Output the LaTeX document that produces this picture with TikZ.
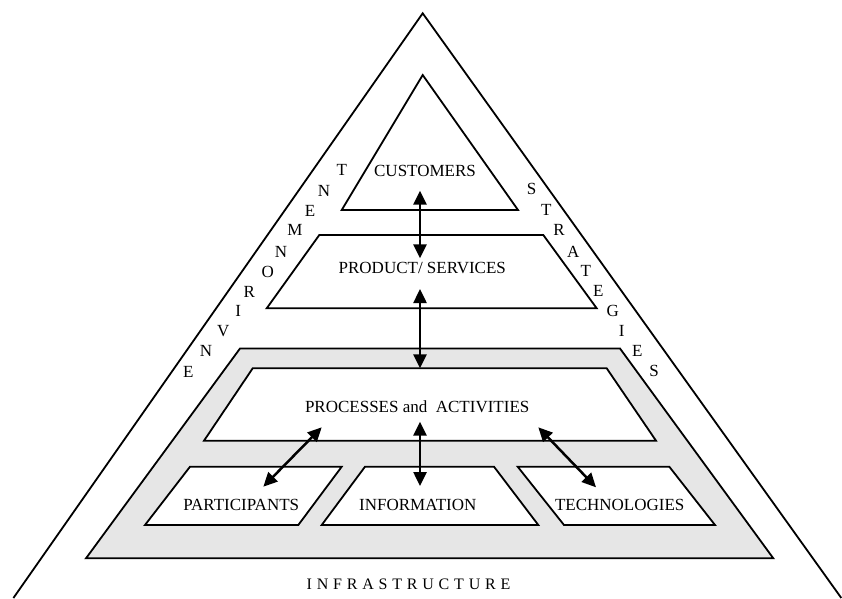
\documentclass[tikz,border=0pt]{standalone}
\usepackage{fontspec}
\setmainfont{Liberation Serif}
\usetikzlibrary{arrows.meta}
\definecolor{infragray}{RGB}{230,230,230}
\tikzset{
  shape line/.style={draw=black, line width=1.8pt, line join=miter},
  infra fill/.style={shape line, fill=infragray},
  white fill/.style={shape line, fill=white},
  dbl arrow/.style={line width=2.5pt, {Triangle[length=14pt,width=13pt]}-{Triangle[length=14pt,width=13pt]}},
  label text/.style={font=\fontsize{17}{20}\selectfont, inner sep=0pt, anchor=base},
  side letter/.style={font=\fontsize{17}{20}\selectfont, inner sep=0pt, anchor=center},
}
\begin{document}
\begin{tikzpicture}[x=1pt, y=-1pt]
\useasboundingbox (0,0) rectangle (842,598);
% outer triangle
\coordinate (apex) at (422.7,13.3);
\coordinate (outerL) at (13.4,598);
\coordinate (outerR) at (841.3,598);
\draw[shape line] (outerL) -- (apex) -- (outerR);
% customers triangle
\draw[white fill] (341.7,210) -- (422.7,75) -- (518,210) -- cycle;
% product / services
\draw[white fill] (319.3,235) -- (543.3,235) -- (596.7,308.3) -- (266.7,308.3) -- cycle;
% infrastructure
\draw[infra fill] (240,348.5) -- (620,348.5) -- (773.3,558.3) -- (86,558.3) -- cycle;
% processes
\draw[white fill] (252.7,368.3) -- (606.7,368.3) -- (656,440.7) -- (204,440.7) -- cycle;
% participants, information, technologies
\draw[white fill] (190,466.7) -- (341.7,466.7) -- (298.3,525) -- (145,525) -- cycle;
\draw[white fill] (365,466.7) -- (494,466.7) -- (538.3,525) -- (321.7,525) -- cycle;
\draw[white fill] (517.7,466.7) -- (669.3,466.7) -- (715,525) -- (564,525) -- cycle;

% labels
\node[label text] (cust) at (425,176) {CUSTOMERS};
\node[label text] (prod) at (422.3,273.3) {PRODUCT/ SERVICES};
\node[label text] (proc) at (417.2,412.3) {PROCESSES and\ \ ACTIVITIES};
\node[label text] (part) at (241.2,510.7) {PARTICIPANTS};
\node[label text] (info) at (417.8,510.5) {INFORMATION};
\node[label text] (tech) at (619.7,510.7) {TECHNOLOGIES};
\node[label text, font=\fontsize{16}{19}\selectfont] (infra) at (408.5,589)
  {I\hspace{4.8pt}N\hspace{4.8pt}F\hspace{4.8pt}R\hspace{4.8pt}A\hspace{4.8pt}S\hspace{4.8pt}T\hspace{4.8pt}R\hspace{4.8pt}U\hspace{4.8pt}C\hspace{4.8pt}T\hspace{4.8pt}U\hspace{4.8pt}R\hspace{4.8pt}E};

% ENVIRONMENT
\node[side letter] (env1) at (188.3,371.7) {E};
\node[side letter] (env2) at (206,351) {N};
\node[side letter] (env3) at (223.3,330.7) {V};
\node[side letter] (env4) at (238.3,310.7) {I};
\node[side letter] (env5) at (249.3,291.7) {R};
\node[side letter] (env6) at (267.7,271.7) {O};
\node[side letter] (env7) at (281,251.7) {N};
\node[side letter] (env8) at (295,230) {M};
\node[side letter] (env9) at (310,210.7) {E};
\node[side letter] (env10) at (324,191) {N};
\node[side letter] (env11) at (341.7,170) {T};
% STRATEGIES
\node[side letter] (str1) at (531.7,189.3) {S};
\node[side letter] (str2) at (546.3,210) {T};
\node[side letter] (str3) at (559,230) {R};
\node[side letter] (str4) at (573.3,251.7) {A};
\node[side letter] (str5) at (585.7,270.7) {T};
\node[side letter] (str6) at (598.3,290.7) {E};
\node[side letter] (str7) at (612.7,310.7) {G};
\node[side letter] (str8) at (621.7,330.7) {I};
\node[side letter] (str9) at (637.3,350.7) {E};
\node[side letter] (str10) at (654,370.7) {S};

% arrows
\coordinate (a1s) at (420,190.7); \coordinate (a1e) at (420,258.3);
\coordinate (a2s) at (420,289);   \coordinate (a2e) at (420,368.3);
\coordinate (a3s) at (420,421.7); \coordinate (a3e) at (420,486);
\coordinate (a4s) at (321.7,427.3); \coordinate (a4e) at (263.3,486.7);
\coordinate (a5s) at (538.3,427.3); \coordinate (a5e) at (596,487.3);
\draw[dbl arrow] (a1s) -- (a1e);
\draw[dbl arrow] (a2s) -- (a2e);
\draw[dbl arrow] (a3s) -- (a3e);
\draw[dbl arrow] (a4s) -- (a4e);
\draw[dbl arrow] (a5s) -- (a5e);
\end{tikzpicture}
\end{document}
